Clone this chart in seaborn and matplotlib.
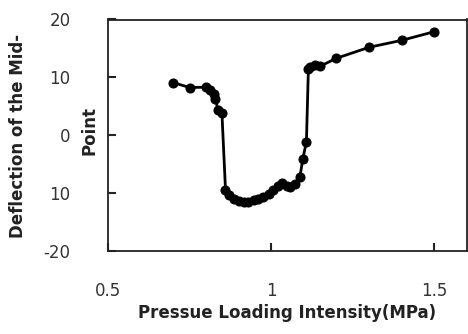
import matplotlib
matplotlib.use("Agg")
import matplotlib.pyplot as plt
import seaborn as sns
import pandas as pd
from matplotlib.ticker import FixedLocator, FixedFormatter

# Data
pressure = [0.70, 0.75, 0.80, 0.814, 0.824, 0.829, 0.837, 0.849, 0.86,
            0.87, 0.885, 0.90, 0.916, 0.93, 0.946, 0.961, 0.976, 0.992,
            1.007, 1.022, 1.032, 1.048, 1.058, 1.073, 1.088, 1.097, 1.108,
            1.114, 1.119, 1.134, 1.149, 1.20, 1.30, 1.40, 1.50]
deflection = [9.1, 8.25, 8.3, 7.8, 7.2, 6.3, 4.4, 3.9, -9.4,
              -10.4, -11.0, -11.4, -11.5, -11.5, -11.2, -11.0, -10.7, -10.2,
              -9.5, -8.7, -8.3, -8.7, -8.9, -8.4, -7.2, -4.1, -1.1,
              11.5, 11.8, 12.1, 11.9, 13.3, 15.2, 16.4, 17.9]
x_ticks = [0.5, 1.0, 1.5]
x_tick_labels = ["0.5", "1", "1.5"]
y_ticks = [20, 10, 0, -10, -20]
y_tick_labels = ["20", "10", "0", "10", "-20"]

df = pd.DataFrame({"pressure": pressure, "deflection": deflection})

sns.set_style("ticks")
plt.rcParams["font.family"] = ["DejaVu Sans"]

fig = plt.figure(figsize=(4.68, 3.34), dpi=100)
ax = fig.add_axes([108 / 468, (334 - 251) / 334, (467 - 108) / 468, (251 - 19.5) / 334])

sns.lineplot(data=df, x="pressure", y="deflection", ax=ax, color="black",
             linewidth=2, marker="o", markersize=6.5, markeredgecolor="black",
             sort=False, estimator=None)

ax.set_xlim(0.5, 1.6)
ax.set_ylim(-20, 20)
ax.xaxis.set_major_locator(FixedLocator(x_ticks))
ax.xaxis.set_major_formatter(FixedFormatter(x_tick_labels))
ax.yaxis.set_major_locator(FixedLocator(y_ticks))
ax.yaxis.set_major_formatter(FixedFormatter(y_tick_labels))
ax.tick_params(axis="both", which="major", direction="in", length=6, width=1.5,
               color="#222222", labelsize=12, labelcolor="#333333",
               bottom=True, left=True, top=False, right=False)
ax.tick_params(axis="x", pad=22)
ax.tick_params(axis="y", pad=27)
for s in ax.spines.values():
    s.set_visible(True)
    s.set_color("#222222")
    s.set_linewidth(1.3)

ax.set_xlabel("Pressue Loading Intensity(MPa)", fontsize=12, fontweight="bold",
              color="#222222", labelpad=3)
ax.set_ylabel("")
fig.text(18 / 468, 1 - 136 / 334, "Deflection of the Mid-", rotation=90,
         ha="center", va="center", fontsize=12, fontweight="bold", color="#222222")
fig.text(90 / 468, 1 - 130 / 334, "Point", rotation=90,
         ha="center", va="center", fontsize=12, fontweight="bold", color="#222222")

fig.savefig("out.png", dpi=100)
